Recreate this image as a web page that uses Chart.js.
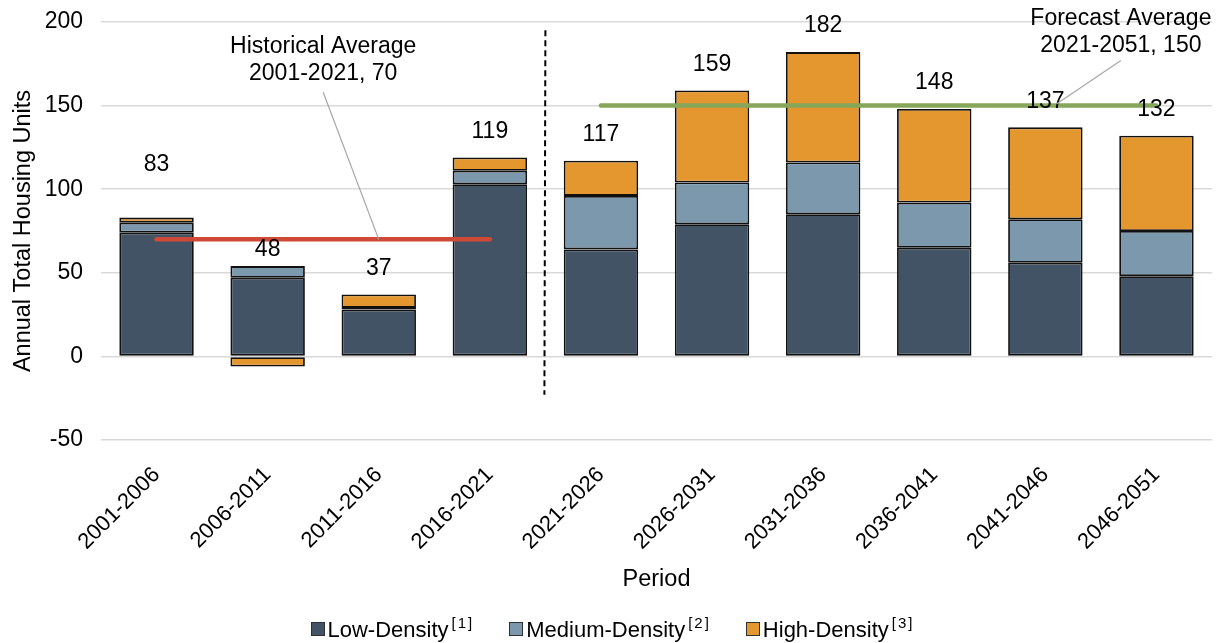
<!DOCTYPE html>
<html>
<head>
<meta charset="utf-8">
<script src="https://cdn.jsdelivr.net/npm/chart.js@4/dist/chart.umd.min.js"></script>
<style>
  html, body { margin: 0; padding: 0; background: #ffffff; }
  #wrap { position: relative; width: 1221px; height: 643px; }
  #legend {
    position: absolute; left: 0; right: 0; top: 615px;
    display: flex; justify-content: center; gap: 35px;
    font-family: "Liberation Sans", Arial, sans-serif; font-size: 22px; color: #000;
    padding-left: 4px;
  }
  #legend .item { display: flex; align-items: center; white-space: nowrap; }
  #legend .box { width: 14px; height: 14px; border: 1px solid #303030; margin-right: 3px; box-sizing: border-box; }
  #legend sup { font-size: 15px; letter-spacing: 2px; position: relative; top: -1px; margin-left: 3px; }
</style>
</head>
<body>
<div id="wrap">
  <canvas id="chart" width="1221" height="643"></canvas>
  <div id="legend"></div>
</div>
<script>
// Five-year periods (annual averages)
const periods = ['2001-2006', '2006-2011', '2011-2016', '2016-2021', '2021-2026',
                 '2026-2031', '2031-2036', '2036-2041', '2041-2046', '2046-2051'];

// Annual housing units by density type
const lowDensity    = [74, 47, 28, 103, 64, 79, 85, 65, 56, 48];
const mediumDensity = [ 6,  7,  1,   8, 32, 25, 31, 27, 26, 27];
const highDensity   = [ 3, -6,  8,   8, 21, 55, 66, 56, 55, 57];

// Period averages
const historicalAverage = [70, 70, 70, 70, null, null, null, null, null, null];
const forecastAverage   = [null, null, null, null, 150, 150, 150, 150, 150, 150];

// Legend entries and their footnote markers
const seriesNames = ['Low-Density', 'Medium-Density', 'High-Density'];
const footnotes = ['[1]', '[2]', '[3]'];

// Value axis ticks
const yTicks = [-50, 0, 50, 100, 150, 200];

const colors = { low: '#435366', medium: '#7c98ad', high: '#e3972e' };
const FONT = '"Liberation Sans", Arial, sans-serif';

const totals = periods.map((_, i) => lowDensity[i] + mediumDensity[i] + highDensity[i]);

// extra lift for individual total labels (px), to clear the average line
const labelLift = { 0: 27 };

const overlayPlugin = {
  id: 'overlay',
  afterDatasetsDraw(chart) {
    const { ctx, scales: { x, y } } = chart;
    const step = x.getPixelForValue(1) - x.getPixelForValue(0);
    const xAt = (pos) => x.getPixelForValue(0) + step * pos;
    ctx.save();

    // period divider between history and forecast
    const xd = xAt(3.5);
    ctx.strokeStyle = '#000';
    ctx.lineWidth = 2;
    ctx.setLineDash([6, 4]);
    ctx.beginPath();
    ctx.moveTo(xd, y.getPixelForValue(195));
    ctx.lineTo(xd - 1, y.getPixelForValue(-23));
    ctx.stroke();
    ctx.setLineDash([]);

    // totals above each stack
    ctx.fillStyle = '#000';
    ctx.font = '23px ' + FONT;
    ctx.textAlign = 'center';
    ctx.textBaseline = 'middle';
    totals.forEach((t, i) => {
      const py = y.getPixelForValue(t) - 26 - (labelLift[i] || 0);
      ctx.fillText(String(t), x.getPixelForValue(i), py);
    });

    // callouts for the averages
    const callout = (lines, tx, ty, fromY, toX, toY) => {
      const px = xAt(tx);
      const py = y.getPixelForValue(ty);
      ctx.fillStyle = '#000';
      ctx.font = '23px ' + FONT;
      lines.forEach((s, k) => ctx.fillText(s, px, py + k * 27));
      ctx.strokeStyle = '#a6a6a6';
      ctx.lineWidth = 1.2;
      ctx.beginPath();
      ctx.moveTo(px, y.getPixelForValue(fromY));
      ctx.lineTo(xAt(toX), y.getPixelForValue(toY));
      ctx.stroke();
    };
    callout(['Historical Average', '2001-2021, 70'], 1.5, 185, 158, 2.0, 70);
    callout(['Forecast Average', '2021-2051, 150'], 8.68, 202, 177, 8.1, 151);

    ctx.restore();
  }
};

const barBase = { borderColor: '#111', borderWidth: 1.8, borderSkipped: false,
                  barPercentage: 0.67, categoryPercentage: 1, stack: 'units', order: 2 };

new Chart(document.getElementById('chart'), {
  type: 'bar',
  data: {
    labels: periods,
    datasets: [
      { ...barBase, label: seriesNames[0], data: lowDensity, backgroundColor: colors.low },
      { ...barBase, label: seriesNames[1], data: mediumDensity, backgroundColor: colors.medium },
      { ...barBase, label: seriesNames[2], data: highDensity, backgroundColor: colors.high },
      { type: 'line', label: 'Historical Average', data: historicalAverage, stack: 'hist', order: 0,
        borderColor: '#cf4a36', borderWidth: 4.5, borderCapStyle: 'round', pointRadius: 0, spanGaps: false },
      { type: 'line', label: 'Forecast Average', data: forecastAverage, stack: 'fcst', order: 0,
        borderColor: '#86a65a', borderWidth: 4.5, borderCapStyle: 'round', pointRadius: 0, spanGaps: false }
    ]
  },
  options: {
    responsive: false,
    animation: false,
    layout: { padding: { top: 22, right: 9, bottom: 43, left: 0 } },
    plugins: { legend: { display: false }, tooltip: { enabled: false } },
    scales: {
      x: {
        stacked: true,
        grid: { display: false },
        border: { display: false },
        ticks: { color: '#000', font: { family: FONT, size: 22 }, minRotation: 45, maxRotation: 45, padding: 14 },
        title: { display: true, text: 'Period', color: '#000', font: { family: FONT, size: 23.5 }, padding: { top: 4, bottom: 6 } },
        afterFit(scale) { scale.height = 160; }
      },
      y: {
        stacked: true,
        min: -50, max: 200,
        afterBuildTicks(scale) { scale.ticks = yTicks.map(v => ({ value: v })); },
        grid: { color: '#d9d9d9', lineWidth: 1.5, drawTicks: false },
        border: { display: false },
        ticks: { color: '#000', font: { family: FONT, size: 23 }, padding: 18 },
        title: { display: true, text: 'Annual Total Housing Units', color: '#000', font: { family: FONT, size: 23.5 }, padding: { top: 9, bottom: 0 } },
        afterFit(scale) { scale.width = 101; scale.paddingTop = 0; scale.paddingBottom = 0; }
      }
    }
  },
  plugins: [overlayPlugin]
});

// legend with footnote markers
const legend = document.getElementById('legend');
[colors.low, colors.medium, colors.high].forEach((c, i) => {
  const item = document.createElement('div');
  item.className = 'item';
  const box = document.createElement('span');
  box.className = 'box';
  box.style.background = c;
  const txt = document.createElement('span');
  txt.textContent = seriesNames[i];
  const sup = document.createElement('sup');
  sup.textContent = footnotes[i];
  txt.appendChild(sup);
  item.appendChild(box);
  item.appendChild(txt);
  legend.appendChild(item);
});
</script>
</body>
</html>
